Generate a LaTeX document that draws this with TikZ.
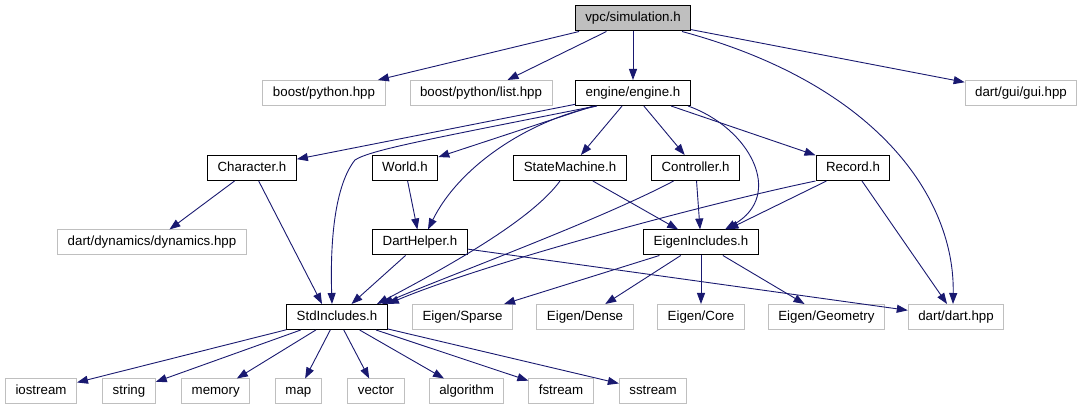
\documentclass[tikz,border=0pt]{standalone}
\usepackage{fontspec}
\setmainfont{Liberation Sans}
\usetikzlibrary{arrows.meta}
\definecolor{edgeblue}{RGB}{25,25,112}
\definecolor{sysgray}{RGB}{191,191,191}
\begin{document}
\begin{tikzpicture}[x=1pt,y=-1pt,
  hdr/.style={draw=black,line width=1pt,inner xsep=10pt,inner ysep=0pt,
    minimum height=25pt,text height=9.6pt,text depth=2.8pt,
    font=\fontsize{13.3}{16}\selectfont},
  mainhdr/.style={hdr,fill=sysgray},
  sysinc/.style={hdr,draw=sysgray},
  dep/.style={draw=edgeblue,line width=0.9pt,-{Triangle[length=11pt,width=8pt]}}]
\useasboundingbox (0,0) rectangle (1082,411);
% rows of headers
\node[mainhdr] (sim) at (633,18.5) {vpc/simulation.h};
\node[sysinc] (bpy) at (324,93) {boost/python.hpp};
\node[sysinc] (bpylist) at (481,93) {boost/python/list.hpp};
\node[hdr] (engine) at (633,93) {engine/engine.h};
\node[sysinc] (gui) at (1021,93) {dart/gui/gui.hpp};
\node[hdr] (character) at (252,168) {Character.h};
\node[hdr] (world) at (405,168) {World.h};
\node[hdr] (statemachine) at (570,168) {StateMachine.h};
\node[hdr] (controller) at (695.6,168) {Controller.h};
\node[hdr] (record) at (853,168) {Record.h};
\node[sysinc] (dynamics) at (152,242.5) {dart/dynamics/dynamics.hpp};
\node[hdr] (darthelper) at (420,242.5) {DartHelper.h};
\node[hdr] (eigen) at (701,242.5) {EigenIncludes.h};
\node[hdr] (std) at (337,317) {StdIncludes.h};
\node[sysinc] (sparse) at (462.5,317) {Eigen/Sparse};
\node[sysinc] (dense) at (585,317) {Eigen/Dense};
\node[sysinc] (core) at (701,317) {Eigen/Core};
\node[sysinc] (geometry) at (826.4,317) {Eigen/Geometry};
\node[sysinc] (dart) at (956,317) {dart/dart.hpp};
\node[sysinc] (iostream) at (41,391.5) {iostream};
\node[sysinc] (string) at (129,391.5) {string};
\node[sysinc] (memory) at (215.7,391.5) {memory};
\node[sysinc] (map) at (298.4,391.5) {map};
\node[sysinc] (vector) at (376,391.5) {vector};
\node[sysinc] (algorithm) at (466.6,391.5) {algorithm};
\node[sysinc] (fstream) at (561,391.5) {fstream};
\node[sysinc] (sstream) at (653,391.5) {sstream};
% includes of vpc/simulation.h
\draw[dep] (sim) -- (bpy);
\draw[dep] (sim) -- (bpylist);
\draw[dep] (sim) -- (engine);
\draw[dep] (sim) -- (gui);
\draw[dep] ([xshift=49pt]sim.south) .. controls (880,85) and (955,200) .. ([xshift=-3pt]dart.north);
% includes of engine/engine.h
\draw[dep] (engine) -- (character);
\draw[dep] ([xshift=-37pt]engine.south) .. controls (430,139) and (370,150) .. (355,160)
  .. controls (335,185) and (330,240) .. ([xshift=-5pt]std.north);
\draw[dep] (engine) -- (world);
\draw[dep] ([xshift=-36pt]engine.south) .. controls (530,120) and (460,165) .. ([xshift=8pt]darthelper.north);
\draw[dep] (engine) -- (statemachine);
\draw[dep] (engine) -- (controller);
\draw[dep] ([xshift=55pt]engine.south) .. controls (750,128) and (785,195) .. ([xshift=24pt]eigen.north);
\draw[dep] (engine) -- (record);
% second row
\draw[dep] (character) -- (dynamics);
\draw[dep] (character) -- ([xshift=-15pt]std.north);
\draw[dep] (world) -- (darthelper);
\draw[dep] ([xshift=-10pt]statemachine.south) .. controls (535,215) and (470,255) .. ([xshift=40pt]std.north);
\draw[dep] (statemachine) -- (eigen);
\draw[dep] ([xshift=-22pt]controller.south) .. controls (600,220) and (450,275) .. ([xshift=45pt]std.north);
\draw[dep] (controller) -- (eigen);
\draw[dep] (record.south west) .. controls (700,205) and (480,265) .. (std.north east);
\draw[dep] (record) -- (eigen);
\draw[dep] (record) -- (dart);
% third row
\draw[dep] (darthelper) -- (std);
\draw[dep] (darthelper) -- (dart);
\draw[dep] (eigen) -- (sparse);
\draw[dep] (eigen) -- (dense);
\draw[dep] (eigen) -- (core);
\draw[dep] (eigen) -- (geometry);
% standard headers
\draw[dep] (std) -- (iostream);
\draw[dep] (std) -- (string);
\draw[dep] (std) -- (memory);
\draw[dep] (std) -- (map);
\draw[dep] (std) -- (vector);
\draw[dep] (std) -- (algorithm);
\draw[dep] (std) -- (fstream);
\draw[dep] (std) -- (sstream);
\end{tikzpicture}
\end{document}
